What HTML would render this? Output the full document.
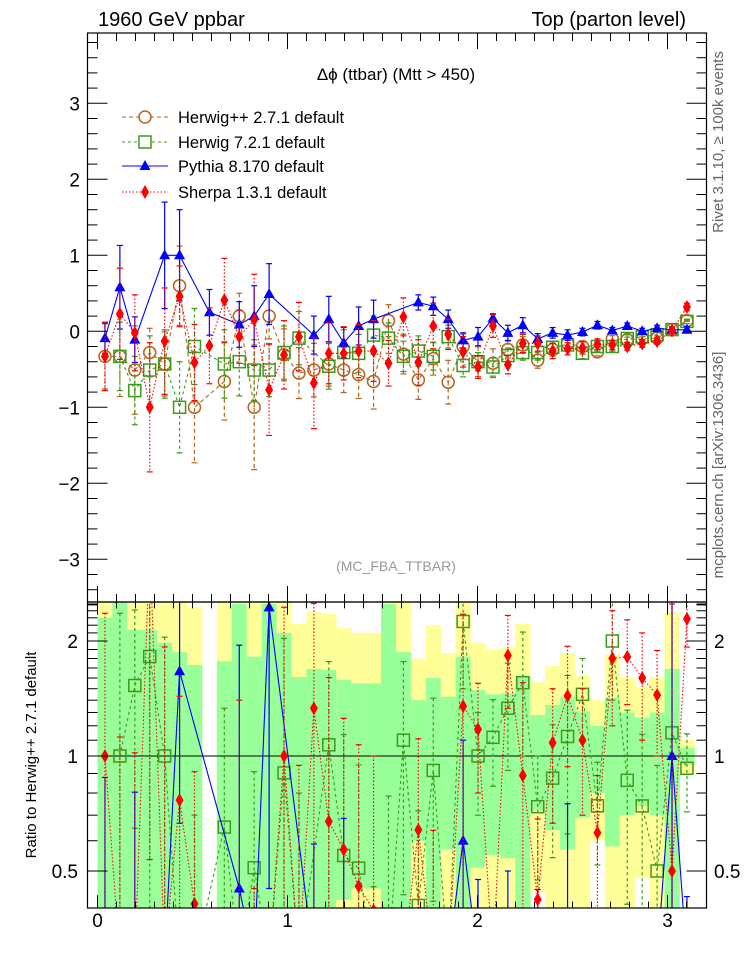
<!DOCTYPE html>
<html><head><meta charset="utf-8"><title>Δφ (ttbar) (Mtt > 450)</title>
<style>
html,body{margin:0;padding:0;background:#fff;overflow:hidden;width:746px;height:972px;}
svg{display:block;font-family:"Liberation Sans",Arial,sans-serif;}
</style></head>
<body>
<svg id="chart" width="746" height="972" viewBox="0 0 746 972" xmlns="http://www.w3.org/2000/svg" overflow="hidden">
<defs>
<clipPath id="clipMain"><rect x="87.5" y="33" width="619" height="569"/></clipPath>
<clipPath id="clipRatio"><rect x="87.5" y="602" width="619" height="306"/></clipPath>
</defs>
<rect x="0" y="0" width="746" height="972" fill="#fff"/>
<g id="bands" clip-path="url(#clipRatio)"></g>
<g id="ratioSeries" clip-path="url(#clipRatio)"></g>
<g id="mainSeries" clip-path="url(#clipMain)"></g>
<g id="axes"></g>
<rect x="87.5" y="33" width="619" height="569" fill="none" stroke="#000" stroke-width="1.2"/>
<rect x="87.5" y="602" width="619" height="306" fill="none" stroke="#000" stroke-width="1.2"/>
<text x="98" y="26" font-size="20">1960 GeV ppbar</text>
<text x="686" y="26" font-size="20" text-anchor="end">Top (parton level)</text>
<text x="396" y="80" font-size="17" text-anchor="middle">Δϕ (ttbar) (Mtt &gt; 450)</text>
<text x="396" y="571" font-size="14" fill="#999" text-anchor="middle">(MC_FBA_TTBAR)</text>
<text transform="translate(723,142) rotate(-90)" font-size="15" fill="#666" text-anchor="middle">Rivet 3.1.10, ≥ 100k events</text>
<text transform="translate(723,465) rotate(-90)" font-size="15" fill="#666" text-anchor="middle">mcplots.cern.ch [arXiv:1306.3436]</text>
<text transform="translate(36,755) rotate(-90)" font-size="15" text-anchor="middle">Ratio to Herwig++ 2.7.1 default</text>
<g id="legend">
 <g>
  <line x1="122" y1="117" x2="168" y2="117" stroke="#b5651d" stroke-dasharray="4,3"/>
  <circle cx="145" cy="117" r="6" fill="#fff" stroke="#b5651d" stroke-width="1.5"/>
  <text x="178" y="123" font-size="16.5">Herwig++ 2.7.1 default</text>
 </g>
 <g>
  <line x1="122" y1="142" x2="168" y2="142" stroke="#3c9a1a" stroke-dasharray="3,3"/>
  <rect x="139" y="136" width="12" height="12" fill="#fff" stroke="#3c9a1a" stroke-width="1.5"/>
  <text x="178" y="148" font-size="16.5">Herwig 7.2.1 default</text>
 </g>
 <g>
  <line x1="122" y1="166" x2="168" y2="166" stroke="#0000ff"/>
  <polygon points="145,160 150.5,170 139.5,170" fill="#0000ff"/>
  <text x="178" y="172" font-size="16.5">Pythia 8.170 default</text>
 </g>
 <g>
  <line x1="122" y1="192" x2="168" y2="192" stroke="#ff0000" stroke-dasharray="1.5,2"/>
  <polygon points="145,185 149,192 145,199 141,192" fill="#ff0000"/>
  <text x="178" y="198" font-size="16.5">Sherpa 1.3.1 default</text>
 </g>
</g>
</svg>
<script>
// ---- data (40 uniform bins in [0, pi]) ----
const nBins = 40;
const herwigpp = [-0.33,-0.33,-0.51,-0.28,-0.43,0.60,-1.00,null,-0.66,0.20,-1.00,0.20,-0.31,-0.55,-0.51,-0.43,-0.51,-0.57,-0.66,0.14,-0.30,-0.64,-0.36,-0.67,-0.20,-0.40,-0.42,-0.24,-0.18,-0.38,-0.24,-0.16,-0.20,-0.27,-0.10,-0.11,-0.10,-0.09,0.02,0.14];
const herwigppRelErr = [1.3,1.6,1.14,1.14,0.98,0.87,0.73,null,0.77,1.5,0.82,1.5,1.1,0.61,0.69,0.68,0.58,0.55,0.55,1.5,0.87,0.4,0.6,0.43,0.82,0.49,0.45,0.46,0.61,0.28,0.36,0.43,0.31,0.2,0.42,0.3,0.26,0.3,0.69,0.05];
const herwig7 = [null,-0.33,-0.78,-0.51,-0.43,-1.00,-0.20,null,-0.43,-0.40,-0.51,-0.51,-0.28,-0.09,null,-0.46,-0.28,-0.29,-0.05,-0.09,-0.33,-0.26,-0.33,-0.07,-0.45,-0.40,-0.47,-0.32,-0.28,-0.28,-0.21,-0.18,-0.29,-0.20,-0.20,-0.095,-0.074,-0.045,0.023,0.13];
const herwig7Err = [0.45,0.45,0.45,0.45,0.45,0.6,0.5,0.4,0.45,0.45,0.4,0.35,0.35,0.35,0.35,0.3,0.3,0.25,0.25,0.2,0.2,0.2,0.18,0.15,0.15,0.12,0.12,0.1,0.1,0.1,0.08,0.08,0.07,0.06,0.06,0.05,0.04,0.04,0.03,0.03];
const pythia = [-0.09,0.58,-0.11,null,1.0,1.0,null,0.25,null,0.09,0.2,0.49,null,null,-0.05,0.16,-0.15,0.07,0.16,null,null,0.38,0.33,0.16,-0.12,-0.07,0.17,-0.02,0.08,-0.1,-0.02,-0.05,-0.01,0.08,0.01,0.07,0.0,0.04,0.02,0.02];
const pythiaErr = [0.2,0.55,0.3,null,0.7,0.6,null,0.3,null,0.3,0.4,0.4,null,null,0.25,0.3,0.2,0.25,0.25,null,null,0.1,0.12,0.12,0.1,0.12,0.06,0.1,0.1,0.07,0.07,0.07,0.05,0.05,0.04,0.04,0.04,0.04,0.04,0.04];
const sherpa = [-0.33,0.23,-0.02,-1.00,-0.13,0.46,-0.41,-0.19,0.41,-0.07,0.15,-0.77,-0.31,-0.07,-0.68,-0.29,-0.29,-0.26,-0.26,-0.42,0.19,-0.41,0.07,-0.04,-0.27,-0.47,0.07,-0.44,-0.16,-0.16,-0.26,-0.23,-0.22,-0.17,-0.18,-0.20,-0.16,-0.13,0.01,0.32];
const sherpaErr = [0.45,0.6,0.5,0.85,0.7,0.4,0.5,0.5,0.55,0.35,0.6,0.6,0.45,0.45,0.6,0.4,0.35,0.35,0.4,0.3,0.25,0.3,0.3,0.2,0.2,0.15,0.15,0.12,0.12,0.1,0.1,0.08,0.08,0.07,0.06,0.05,0.05,0.04,0.04,0.05];
const xTickLabels = ["0","1","2","3"];
const yTickLabels = ["−3","−2","−1","0","1","2","3"];
const ratioTickLabels = ["0.5","1","2"];

// ---- axes ----
const NS = "http://www.w3.org/2000/svg";
const binW = Math.PI / nBins;
const CAP = 960;
function px(x){ return 97.5 + x * 190; }
function py(v){ return 331.3 - 76 * v; }
function ry(r){ return r > 0 ? Math.min(CAP, 756 - 382 * Math.log10(r)) : CAP; }
function el(parent, tag, attrs, name){
  const e = document.createElementNS(NS, tag);
  for (const k in attrs) e.setAttribute(k, attrs[k]);
  
  
  parent.appendChild(e);
  return e;
}
const gBands = document.getElementById('bands');
const gRatio = document.getElementById('ratioSeries');
const gMain = document.getElementById('mainSeries');
const gAxes = document.getElementById('axes');

// bands
for (let i = 0; i < nBins; i++){
  const e = herwigppRelErr[i];
  if (e === null || herwigpp[i] === null) continue;
  const x1 = px(i*binW), x2 = px((i+1)*binW);
  const yTop2 = Math.max(590, ry(1+2*e)), yBot2 = ry(1-2*e), yTop1 = Math.max(590, ry(1+e)), yBot1 = ry(1-e);
  el(gBands,'rect',{x:x1,y:yTop2,width:x2-x1+0.3,height:Math.max(0,yBot2-yTop2),fill:'#ffff99'},'band-2sigma-'+i);
  el(gBands,'rect',{x:x1,y:yTop1,width:x2-x1+0.3,height:Math.max(0,yBot1-yTop1),fill:'#99ff99'},'band-1sigma-'+i);
}
el(gBands,'line',{x1:87.5,y1:ry(1),x2:706.5,y2:ry(1),stroke:'#000','stroke-width':1},'ratio-unity-line');

const series = [
  {key:'herwigpp', vals:herwigpp, errs:herwigpp.map((v,i)=> v===null||herwigppRelErr[i]===null?null:Math.abs(v)*herwigppRelErr[i]), color:'#b5651d', dash:'4,3', marker:'circle', ratio:false},
  {key:'herwig7', vals:herwig7, errs:herwig7Err, color:'#3c9a1a', dash:'3,3', marker:'square', ratio:true},
  {key:'pythia', vals:pythia, errs:pythiaErr, color:'#0000ff', dash:null, marker:'triangle', ratio:true},
  {key:'sherpa', vals:sherpa, errs:sherpaErr, color:'#ff0000', dash:'1.5,2', marker:'diamond', ratio:true}
];

function marker(g, type, x, y, color, name){
  if (type==='circle') el(g,'circle',{cx:x,cy:y,r:6,fill:'none',stroke:color,'stroke-width':1.5},name);
  else if (type==='square') el(g,'rect',{x:x-6,y:y-6,width:12,height:12,fill:'none',stroke:color,'stroke-width':1.5},name);
  else if (type==='triangle') el(g,'polygon',{points:`${x},${y-6} ${x+5.5},${y+4} ${x-5.5},${y+4}`,fill:color},name);
  else el(g,'polygon',{points:`${x},${y-7} ${x+4},${y} ${x},${y+7} ${x-4},${y}`,fill:color},name);
}

function drawSeries(g, s, valFn, errFn, yFn, prefix){
  const pts = [];
  for (let i = 0; i < nBins; i++){
    const v = valFn(i);
    if (v === null) continue;
    const x = px((i+0.5)*binW);
    const y = Math.min(CAP, yFn(v));
    pts.push([x, y]);
    const e = errFn(i);
    if (e !== null && e !== undefined){
      const y1 = Math.min(CAP, yFn(v+e)), y2 = Math.min(CAP, yFn(v-e));
      const a = {x1:x,y1:y1,x2:x,y2:y2,stroke:s.color,'stroke-width':1.2};
      if (s.dash) a['stroke-dasharray'] = s.dash;
      el(g,'line',a,prefix+'-'+s.key+'-errorbar-'+i);
      el(g,'line',{x1:x-3,y1:y1,x2:x+3,y2:y1,stroke:s.color,'stroke-width':1.2},prefix+'-'+s.key+'-cap-hi-'+i);
      el(g,'line',{x1:x-3,y1:y2,x2:x+3,y2:y2,stroke:s.color,'stroke-width':1.2},prefix+'-'+s.key+'-cap-lo-'+i);
    }
  }
  const la = {points:pts.map(p=>p.join(',')).join(' '),fill:'none',stroke:s.color,'stroke-width':1.1};
  if (s.dash) la['stroke-dasharray'] = s.dash;
  el(g,'polyline',la,prefix+'-'+s.key+'-line');
  for (let i = 0; i < nBins; i++){
    const v = valFn(i);
    if (v === null) continue;
    const y = yFn(v);
    if (y >= CAP) continue;
    marker(g, s.marker, px((i+0.5)*binW), y, s.color, prefix+'-'+s.key+'-point-'+i);
  }
}

series.forEach(s=>{
  drawSeries(gMain, s, i=>s.vals[i], i=>s.errs[i], py, 'main');
  if (!s.ratio) return;
  drawSeries(gRatio, s,
    i=> (s.vals[i]===null || herwigpp[i]===null || herwigpp[i]===0) ? null : s.vals[i]/herwigpp[i],
    i=> (s.errs[i]===null || herwigpp[i]===null) ? null : s.errs[i]/Math.abs(herwigpp[i]),
    ry, 'ratio');
});

// ---- ticks ----
function tick(x1,y1,x2,y2,name){ el(gAxes,'line',{x1:x1,y1:y1,x2:x2,y2:y2,stroke:'#000','stroke-width':1},name); }
for (let k = 0; k <= 31; k++){
  const v = k/10, x = px(v), major = (k%10===0), L = major?16:8;
  tick(x,33,x,33+L,'x-tick-top-'+k);
  tick(x,602,x,602-L,'x-tick-mainbottom-'+k);
  tick(x,602,x,602+L*0.8,'x-tick-ratiotop-'+k);
  tick(x,908,x,908-L*0.8,'x-tick-bottom-'+k);
}
for (let k = -18; k <= 19; k++){
  const v = k/5, y = py(v), major = (k%5===0), L = major?20:10;
  tick(87.5,y,87.5+L,y,'y-tick-left-'+k);
  tick(706.5,y,706.5-L,y,'y-tick-right-'+k);
}
for (let k = 4; k <= 25; k++){
  const r = k/10, y = ry(r); if (y < 602) continue;
  const major = (k===5||k===10||k===20), L = major?20:10;
  tick(87.5,y,87.5+L,y,'ratio-tick-left-'+k);
  tick(706.5,y,706.5-L,y,'ratio-tick-right-'+k);
}
xTickLabels.forEach((t,i)=>{
  const e = el(gAxes,'text',{x:px(+t),y:927,'font-size':19,'text-anchor':'middle'},'x-tick-label-'+t);
  e.textContent = t;
});
yTickLabels.forEach((t,i)=>{
  const v = i-3;
  const e = el(gAxes,'text',{x:80,y:py(v)+7,'font-size':19,'text-anchor':'end'},'y-tick-label-'+v);
  e.textContent = t;
});
ratioTickLabels.forEach(t=>{
  const r = parseFloat(t);
  const a = el(gAxes,'text',{x:78,y:ry(r)+7,'font-size':19,'text-anchor':'end'},'ratio-tick-label-left-'+t);
  a.textContent = t;
  const b = el(gAxes,'text',{x:714,y:ry(r)+7,'font-size':19,'text-anchor':'start'},'ratio-tick-label-right-'+t);
  b.textContent = t;
});
</script>
</body></html>
